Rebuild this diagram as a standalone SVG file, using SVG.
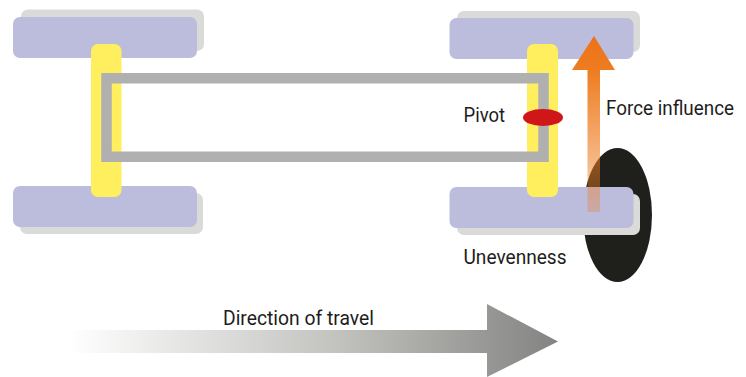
<svg xmlns="http://www.w3.org/2000/svg" width="746" height="377" viewBox="0 0 746 377">
<style>
.shadow{fill:#dadad8}
.tyre{fill:#bcbcdd}
.axle{fill:#ffef5f}
text{font-family:"Roboto","Noto Sans",sans-serif;font-size:20px;fill:#1d1d1b}
</style>
<defs>
<linearGradient id="force" gradientUnits="userSpaceOnUse" x1="0" y1="36" x2="0" y2="212">
<stop offset="0" stop-color="#ec7217"/><stop offset="0.2" stop-color="#ee7d22"/><stop offset="1" stop-color="#ee7d22" stop-opacity="0.3"/>
</linearGradient>
<linearGradient id="travel" gradientUnits="userSpaceOnUse" x1="68" y1="0" x2="558" y2="0">
<stop offset="0" stop-color="#fff"/><stop offset="0.55" stop-color="#c2c2bf"/><stop offset="1" stop-color="#838381"/>
</linearGradient>
</defs>
<g id="unevenness-bump"><ellipse cx="617.5" cy="215" rx="34.500" ry="67" fill="#1f1f1b"/></g>
<g id="wheel-front-left"><rect class="shadow" x="21" y="9.500" width="183" height="41.500" rx="7"/><rect class="tyre" x="13" y="17" width="184" height="41" rx="7"/></g>
<g id="wheel-rear-left"><rect class="shadow" x="20" y="193" width="183" height="41" rx="7"/><rect class="tyre" x="13" y="186" width="184" height="41" rx="7"/></g>
<g id="wheel-front-right"><rect class="shadow" x="457" y="11" width="183" height="41" rx="7"/><rect class="tyre" x="449.500" y="18" width="184" height="41" rx="7"/></g>
<g id="wheel-rear-right"><rect class="shadow" x="457" y="194" width="183" height="41" rx="7"/><rect class="tyre" x="449.500" y="187" width="184" height="41" rx="7"/></g>
<g id="axle-left"><rect class="axle" x="91" y="44" width="30.500" height="153" rx="7"/></g>
<g id="axle-right"><rect class="axle" x="527" y="44" width="31" height="153" rx="7"/></g>
<g id="frame"><rect x="106.500" y="78.250" width="437" height="78.500" fill="none" stroke="#b0b0b0" stroke-width="10.500"/></g>
<g id="pivot"><ellipse cx="543" cy="117.500" rx="20" ry="8.500" fill="#cf1719"/><text x="463.500" y="122" textLength="41.500" lengthAdjust="spacingAndGlyphs">Pivot</text></g>
<g id="force-influence"><path d="M594 36L615 70H600V212H587.500V70H572Z" fill="url(#force)"/><text x="606" y="115" textLength="128" lengthAdjust="spacingAndGlyphs">Force influence</text></g>
<g id="unevenness-label"><text x="463.500" y="263.500" textLength="103" lengthAdjust="spacingAndGlyphs">Unevenness</text></g>
<g id="direction-of-travel"><path d="M68 330H487V304L558 341.500L487 377V353H68Z" fill="url(#travel)"/><text x="223" y="325" textLength="151" lengthAdjust="spacingAndGlyphs">Direction of travel</text></g>
</svg>
